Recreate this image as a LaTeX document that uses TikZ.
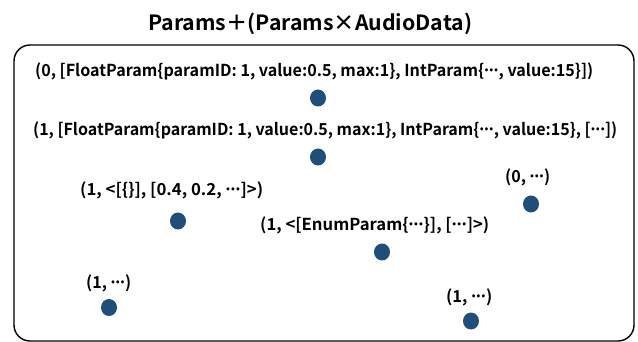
\documentclass[tikz,border=0pt]{standalone}
\usepackage{fontspec}
\usepackage{graphicx}
\usetikzlibrary{shapes.geometric}
\setmainfont{Noto Sans CJK JP}[BoldFont={* Bold}]
\definecolor{dotblue}{HTML}{1F4E79}
\newcommand{\fitw}[2]{\resizebox{#1pt}{\height}{#2}}
\newcommand{\mdd}{\makebox[0.3em]{·}\makebox[0.3em]{·}\makebox[0.3em]{·}}
\begin{document}
\begin{tikzpicture}[x=1pt,y=-1pt,
  lbl/.style={inner sep=0pt,anchor=base west,font=\bfseries\fontsize{16.5}{18}\selectfont},
  ttl/.style={inner sep=0pt,anchor=base west,font=\bfseries\fontsize{21}{24}\selectfont},
  dotn/.style={ellipse,fill=dotblue,minimum width=16pt,minimum height=17pt,inner sep=0pt},
  frame/.style={draw=black,line width=1.4pt,rounded corners=16pt}]
\useasboundingbox (0,0) rectangle (638,342);
\node[ttl] (title) at (148,30.5) {\fitw{324}{Params＋(Params×AudioData)}};
\draw[frame] (14,45) rectangle (634,341);
\node[lbl] (l1) at (35,76.5) {\fitw{558}{(0, [FloatParam\{paramID: 1, value:0.5, max:1\}, IntParam\{\mdd, value:15\}])}};
\node[dotn] (d1) at (318,98) {};
\node[lbl] (l2) at (33,136) {\fitw{584}{(1, [FloatParam\{paramID: 1, value:0.5, max:1\}, IntParam\{\mdd, value:15\}, [\mdd])}};
\node[dotn] (d2) at (318,157) {};
\node[lbl] (l3) at (505,182.7) {\fitw{45}{(0, \mdd)}};
\node[dotn] (d3) at (531,204) {};
\node[lbl] (l4) at (80,196) {\fitw{183}{(1, <[\{\}], [0.4, 0.2, \mdd]>)}};
\node[dotn] (d4) at (178,221) {};
\node[lbl] (l5) at (260,231) {\fitw{229}{(1, <[EnumParam\{\mdd\}], [\mdd]>)}};
\node[dotn] (d5) at (382,252) {};
\node[lbl] (l6) at (86,289) {\fitw{45}{(1, \mdd)}};
\node[dotn] (d6) at (109,307.5) {};
\node[lbl] (l7) at (446,302) {\fitw{46}{(1, \mdd)}};
\node[dotn] (d7) at (471,321) {};
\end{tikzpicture}
\end{document}
